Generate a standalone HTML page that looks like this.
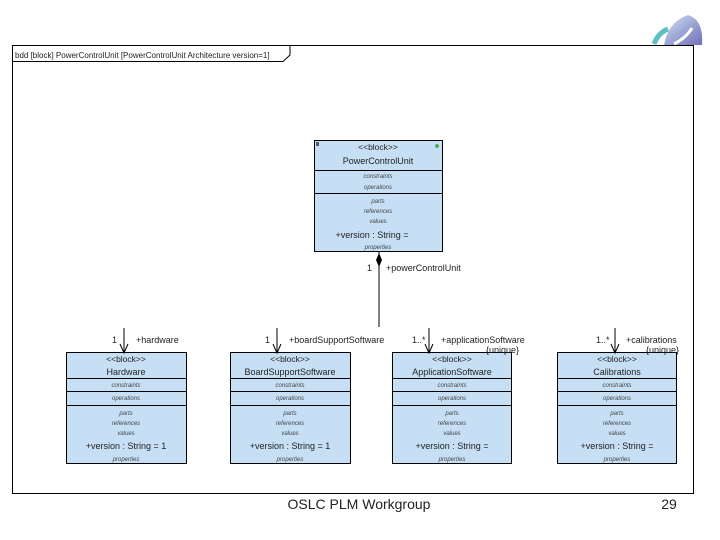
<!DOCTYPE html>
<html><head><meta charset="utf-8"><style>
html,body{margin:0;padding:0;background:#fff;width:720px;height:540px;overflow:hidden}
svg{display:block}
text{font-family:"Liberation Sans",sans-serif;fill:#222}
.s{font-size:6px;fill:#444;font-style:italic}
.n{font-size:9px}
.l{font-size:8.5px}
</style></head><body>
<svg width="720" height="540" viewBox="0 0 720 540">
<defs>
<linearGradient id="lg" x1="0" y1="0" x2="1" y2="1"><stop offset="0" stop-color="#cfe3f3"/><stop offset="1" stop-color="#6f6fb8"/></linearGradient>
</defs>
<!-- logo -->
<path d="M664,45 Q668,22 688,15 Q704,20 702,45 Z" fill="url(#lg)"/>
<path d="M654,44 Q658,33 668,29" stroke="#5fc0c0" stroke-width="5" fill="none"/>
<path d="M674,44 Q686,38 692,28" stroke="#fff" stroke-width="3" fill="none"/>
<!-- frame -->
<rect x="12.5" y="45.5" width="681" height="448" fill="none" stroke="#000"/>
<path d="M12.5,61.5 H283 L290,55 V45.5" fill="none" stroke="#000"/>
<text x="15" y="58" style="font-size:8px">bdd [block] PowerControlUnit [PowerControlUnit Architecture version=1]</text>

<!-- top block -->
<g>
<rect x="314.5" y="140.5" width="128" height="111" fill="#c6dff5" stroke="#000"/>
<line x1="314.5" y1="170.5" x2="442.5" y2="170.5" stroke="#000"/>
<line x1="314.5" y1="193.5" x2="442.5" y2="193.5" stroke="#000"/>
<text x="378" y="150" text-anchor="middle" class="l">&lt;&lt;block&gt;&gt;</text>
<text x="378" y="164" text-anchor="middle" class="n">PowerControlUnit</text>
<text x="378" y="178" text-anchor="middle" class="s">constraints</text>
<text x="378" y="189" text-anchor="middle" class="s">operations</text>
<text x="378" y="203" text-anchor="middle" class="s">parts</text>
<text x="378" y="213" text-anchor="middle" class="s">references</text>
<text x="378" y="223" text-anchor="middle" class="s">values</text>
<text x="372" y="238" text-anchor="middle" class="n">+version : String =</text>
<text x="378" y="249" text-anchor="middle" class="s">properties</text>
<circle cx="437" cy="146" r="2" fill="#5a5"/>
<rect x="316" y="142" width="3" height="4" fill="#557"/>
</g>
<!-- composition -->
<line x1="379" y1="252" x2="379" y2="327" stroke="#000"/>
<path d="M379,253 L382,260 L379,267 L376,260 Z" fill="#000"/>
<text x="367" y="271" class="n">1</text>
<text x="386" y="271" class="n">+powerControlUnit</text>

<!-- bottom blocks -->
<g id="b1">
<rect x="66.5" y="352.5" width="120" height="111" fill="#c6dff5" stroke="#000"/>
<line x1="66.5" y1="378.5" x2="186.5" y2="378.5" stroke="#000"/>
<line x1="66.5" y1="391.5" x2="186.5" y2="391.5" stroke="#000"/>
<line x1="66.5" y1="405.5" x2="186.5" y2="405.5" stroke="#000"/>
<text x="126" y="362" text-anchor="middle" class="l">&lt;&lt;block&gt;&gt;</text>
<text x="126" y="375" text-anchor="middle" class="n">Hardware</text>
<text x="126" y="387" text-anchor="middle" class="s">constraints</text>
<text x="126" y="400" text-anchor="middle" class="s">operations</text>
<text x="126" y="415" text-anchor="middle" class="s">parts</text>
<text x="126" y="425" text-anchor="middle" class="s">references</text>
<text x="126" y="435" text-anchor="middle" class="s">values</text>
<text x="126" y="449" text-anchor="middle" class="n">+version : String = 1</text>
<text x="126" y="461" text-anchor="middle" class="s">properties</text>
</g>
<g transform="translate(164,0)">
<rect x="66.5" y="352.5" width="120" height="111" fill="#c6dff5" stroke="#000"/>
<line x1="66.5" y1="378.5" x2="186.5" y2="378.5" stroke="#000"/>
<line x1="66.5" y1="391.5" x2="186.5" y2="391.5" stroke="#000"/>
<line x1="66.5" y1="405.5" x2="186.5" y2="405.5" stroke="#000"/>
<text x="126" y="362" text-anchor="middle" class="l">&lt;&lt;block&gt;&gt;</text>
<text x="126" y="375" text-anchor="middle" class="n">BoardSupportSoftware</text>
<text x="126" y="387" text-anchor="middle" class="s">constraints</text>
<text x="126" y="400" text-anchor="middle" class="s">operations</text>
<text x="126" y="415" text-anchor="middle" class="s">parts</text>
<text x="126" y="425" text-anchor="middle" class="s">references</text>
<text x="126" y="435" text-anchor="middle" class="s">values</text>
<text x="126" y="449" text-anchor="middle" class="n">+version : String = 1</text>
<text x="126" y="461" text-anchor="middle" class="s">properties</text>
</g>
<g transform="translate(326,0)">
<rect x="66.5" y="352.5" width="119" height="111" fill="#c6dff5" stroke="#000"/>
<line x1="66.5" y1="378.5" x2="185.5" y2="378.5" stroke="#000"/>
<line x1="66.5" y1="391.5" x2="185.5" y2="391.5" stroke="#000"/>
<line x1="66.5" y1="405.5" x2="185.5" y2="405.5" stroke="#000"/>
<text x="126" y="362" text-anchor="middle" class="l">&lt;&lt;block&gt;&gt;</text>
<text x="126" y="375" text-anchor="middle" class="n">ApplicationSoftware</text>
<text x="126" y="387" text-anchor="middle" class="s">constraints</text>
<text x="126" y="400" text-anchor="middle" class="s">operations</text>
<text x="126" y="415" text-anchor="middle" class="s">parts</text>
<text x="126" y="425" text-anchor="middle" class="s">references</text>
<text x="126" y="435" text-anchor="middle" class="s">values</text>
<text x="126" y="449" text-anchor="middle" class="n">+version : String =</text>
<text x="126" y="461" text-anchor="middle" class="s">properties</text>
</g>
<g transform="translate(491,0)">
<rect x="66.5" y="352.5" width="119" height="111" fill="#c6dff5" stroke="#000"/>
<line x1="66.5" y1="378.5" x2="185.5" y2="378.5" stroke="#000"/>
<line x1="66.5" y1="391.5" x2="185.5" y2="391.5" stroke="#000"/>
<line x1="66.5" y1="405.5" x2="185.5" y2="405.5" stroke="#000"/>
<text x="126" y="362" text-anchor="middle" class="l">&lt;&lt;block&gt;&gt;</text>
<text x="126" y="375" text-anchor="middle" class="n">Calibrations</text>
<text x="126" y="387" text-anchor="middle" class="s">constraints</text>
<text x="126" y="400" text-anchor="middle" class="s">operations</text>
<text x="126" y="415" text-anchor="middle" class="s">parts</text>
<text x="126" y="425" text-anchor="middle" class="s">references</text>
<text x="126" y="435" text-anchor="middle" class="s">values</text>
<text x="126" y="449" text-anchor="middle" class="n">+version : String =</text>
<text x="126" y="461" text-anchor="middle" class="s">properties</text>
</g>

<!-- arrows -->
<g stroke="#000" fill="none">
<line x1="124" y1="328" x2="124" y2="353"/><path d="M120,344 L124,353 L128,344"/>
<line x1="277" y1="328" x2="277" y2="353"/><path d="M273,344 L277,353 L281,344"/>
<line x1="429" y1="328" x2="429" y2="353"/><path d="M425,344 L429,353 L433,344"/>
<line x1="615" y1="328" x2="615" y2="353"/><path d="M611,344 L615,353 L619,344"/>
</g>
<text x="112" y="343" class="n">1</text><text x="136" y="343" class="n">+hardware</text>
<text x="265" y="343" class="n">1</text><text x="289" y="343" class="n">+boardSupportSoftware</text>
<text x="412" y="343" class="n">1..*</text><text x="441" y="343" class="n">+applicationSoftware</text>
<text x="486" y="353" class="n">{unique}</text>
<text x="596" y="343" class="n">1..*</text><text x="626" y="343" class="n">+calibrations</text>
<text x="646" y="353" class="n">{unique}</text>

<text x="359" y="509" text-anchor="middle" style="font-size:14px">OSLC PLM Workgroup</text>
<text x="669" y="509" text-anchor="middle" style="font-size:14px">29</text>
</svg>
</body></html>
